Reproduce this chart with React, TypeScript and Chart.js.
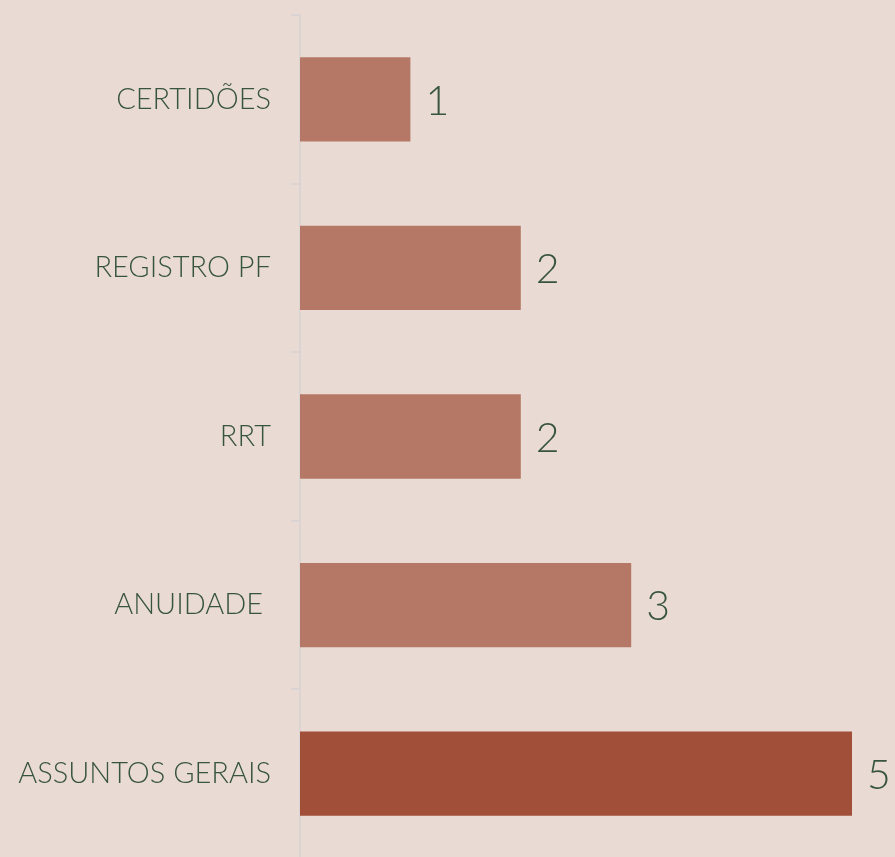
import React, { useEffect, useRef } from "react";
import { Chart, registerables } from "chart.js";

Chart.register(...registerables);

const categories = ["CERTIDÕES", "REGISTRO PF", "RRT", "ANUIDADE ", "ASSUNTOS GERAIS"];
const values = [1, 2, 2, 3, 5];
const barColors = ["#B57866", "#B57866", "#B57866", "#B57866", "#A14F39"];

const BG = "#E9DAD4";
const TEXT = "#37543D";
const AXIS = "#DCD3D3";
const FONT = "Lato";

const valueLabels = {
  id: "valueLabels",
  afterDatasetsDraw(chart: any) {
    const ctx = chart.ctx;
    const meta = chart.getDatasetMeta(0);
    ctx.save();
    ctx.fillStyle = TEXT;
    ctx.font = `300 41px ${FONT}`;
    ctx.textAlign = "left";
    ctx.textBaseline = "middle";
    meta.data.forEach((bar: any, i: number) => {
      ctx.fillText(String(values[i]), bar.x + 15, bar.y + 2);
    });
    ctx.restore();
  },
};

export default function App() {
  const ref = useRef<HTMLCanvasElement>(null);
  useEffect(() => {
    document.body.style.margin = "0";
    document.body.style.background = BG;
    const chart = new Chart(ref.current!, {
      type: "bar",
      data: {
        labels: categories,
        datasets: [
          {
            data: values,
            backgroundColor: barColors,
            barPercentage: 0.5,
            categoryPercentage: 1,
          },
        ],
      },
      options: {
        indexAxis: "y",
        animation: false,
        responsive: false,
        maintainAspectRatio: false,
        layout: { padding: { top: 15, right: 43, bottom: 2, left: 0 } },
        plugins: { legend: { display: false }, tooltip: { enabled: false } },
        scales: {
          x: { display: false, min: 0, max: 5 },
          y: {
            afterFit: (s: any) => {
              s.width = 300;
              s.paddingTop = 0;
              s.paddingBottom = 0;
            },
            border: { display: true, color: AXIS, width: 2 },
            grid: {
              display: true,
              drawOnChartArea: false,
              drawTicks: true,
              tickLength: 9,
              color: AXIS,
              lineWidth: 2,
              offset: true,
            },
            ticks: {
              color: TEXT,
              padding: 20,
              font: { family: FONT, size: 29, weight: "300" as any },
            },
          },
        },
      },
      plugins: [valueLabels],
    });
    return () => chart.destroy();
  }, []);
  return (
    <div style={{ width: 895, height: 857, overflow: "hidden", background: BG }}>
      <canvas ref={ref} width={895} height={860} style={{ display: "block" }} />
    </div>
  );
}
